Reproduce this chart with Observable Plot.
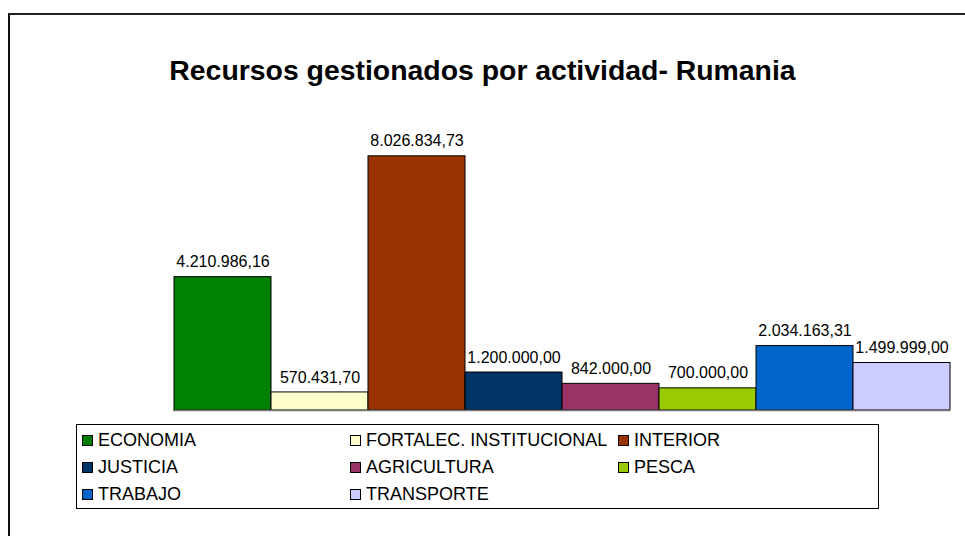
<!DOCTYPE html>
<html>
<head>
<meta charset="utf-8">
<script src="https://cdn.jsdelivr.net/npm/d3@7"></script>
<script src="https://cdn.jsdelivr.net/npm/@observablehq/plot@0.6"></script>
<style>
  html, body { margin: 0; padding: 0; background: #fff; }
  #wrap { position: relative; width: 965px; height: 536px; overflow: hidden; font-family: "Liberation Sans", Arial, sans-serif; }
  #frame { position: absolute; left: 8px; top: 13px; width: 1000px; height: 600px; border-left: 2px solid #111; border-top: 2px solid #222; }
  #title { position: absolute; left: 0; width: 965px; top: 54px; text-align: center; font-weight: bold; font-size: 28.4px; color: #000; white-space: nowrap; }
  #chart { position: absolute; left: 0; top: 0; }
  #legend { position: absolute; left: 76px; top: 424px; width: 801px; height: 83px; border: 1px solid #000; background: #fff; }
  .item { position: absolute; font-size: 18px; color: #000; white-space: nowrap; line-height: 20px; }
  .sw { position: absolute; width: 9px; height: 9px; border: 1px solid #000; }
</style>
</head>
<body>
<div id="wrap">
  <div id="frame"></div>
  <div id="title">Recursos gestionados por actividad- Rumania</div>
  <div id="chart"></div>
  <div id="legend"></div>
</div>
<script>
const categories = ["ECONOMIA", "FORTALEC. INSTITUCIONAL", "INTERIOR", "JUSTICIA", "AGRICULTURA", "PESCA", "TRABAJO", "TRANSPORTE"];
const values = [4210986.16, 570431.70, 8026834.73, 1200000.00, 842000.00, 700000.00, 2034163.31, 1499999.00];
const colors = ["#008000", "#FFFFCC", "#993300", "#003366", "#993366", "#99CC00", "#0066CC", "#CCCCFF"];

const locale = d3.formatLocale({decimal: ",", thousands: ".", grouping: [3], currency: ["", ""]});
const fmt = locale.format(",.2f");

const data = categories.map((c, i) => ({cat: c, value: values[i], color: colors[i], label: fmt(values[i])}));

const plot = Plot.plot({
  width: 965,
  height: 536,
  marginLeft: 173,
  marginRight: 15,
  marginTop: 125,
  marginBottom: 126,
  style: {fontFamily: "'Liberation Sans', Arial, sans-serif", background: "transparent", overflow: "visible"},
  x: {domain: categories, padding: 0, axis: null},
  y: {domain: [0, 9000000], axis: null},
  marks: [
    Plot.barY(data, {x: "cat", y: "value", fill: "color", stroke: "#000", strokeWidth: 1}),
    Plot.ruleY([0], {stroke: "#777", strokeWidth: 1.5}),
    Plot.text(data, {x: "cat", y: "value", text: "label", dy: -15, fontSize: 16, fill: "#000"})
  ]
});
document.getElementById("chart").appendChild(plot);

// Legend: three columns, row-major order
const legend = document.getElementById("legend");
const colX = [5, 273, 541];
const rowY = [5, 32, 59];
categories.forEach((c, i) => {
  const col = i % 3, row = Math.floor(i / 3);
  const sw = document.createElement("div");
  sw.className = "sw";
  sw.style.left = colX[col] + "px";
  sw.style.top = (rowY[row] + 5) + "px";
  sw.style.background = colors[i];
  legend.appendChild(sw);
  const t = document.createElement("div");
  t.className = "item";
  t.style.left = (colX[col] + 16) + "px";
  t.style.top = rowY[row] + "px";
  t.textContent = c;
  legend.appendChild(t);
});
</script>
</body>
</html>
